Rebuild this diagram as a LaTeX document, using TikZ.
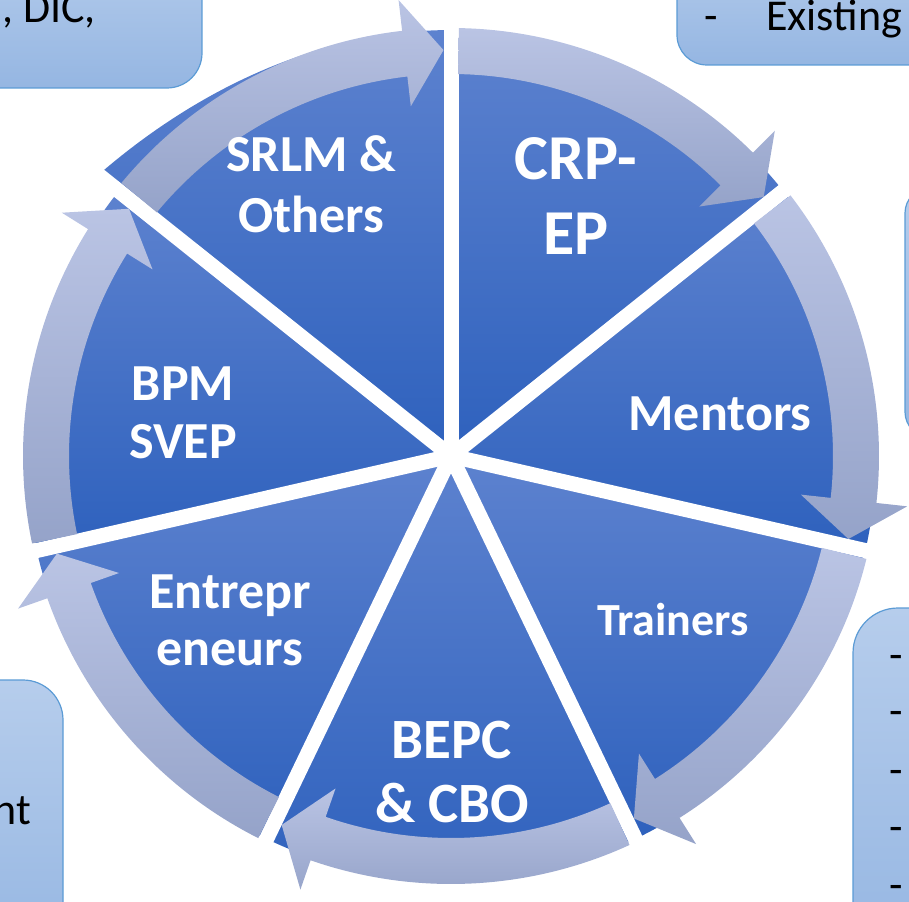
\documentclass[tikz,border=0pt]{standalone}
\usepackage{fontspec}
\setmainfont{Carlito}
\definecolor{wtop}{HTML}{5D82CF}
\definecolor{wbot}{HTML}{2E61BD}
\definecolor{atop}{HTML}{BAC4E4}
\definecolor{abot}{HTML}{95A3C9}
\definecolor{btop}{HTML}{B6CDEC}
\definecolor{bbot}{HTML}{95B6E2}
\definecolor{bline}{HTML}{5B9BD5}
\begin{document}
\begin{tikzpicture}[x=1pt,y=1pt,
  wedge/.style={top color=wtop, bottom color=wbot, draw=none},
  ring/.style={top color=atop, bottom color=abot, draw=none},
  sidebox/.style={top color=btop, bottom color=bbot, draw=bline, line width=1.2pt},
  lbl/.style={text=white, align=center, inner sep=0pt, anchor=base},
  boxtxt/.style={text=black, inner sep=0pt, font=\fontsize{44}{53}\selectfont}]
\useasboundingbox (0,0) rectangle (909,-901);
\clip (0,0) rectangle (909,-901);
% side boxes (cut by the frame)
\path[sidebox, rounded corners=35] (-60,60) rectangle (202,-88);
\path[sidebox, rounded corners=30] (677,60) rectangle (980,-65);
\path[sidebox, rounded corners=25] (905,-188) rectangle (980,-437);
\path[sidebox, rounded corners=45] (853,-608) rectangle (980,-960);
\path[sidebox, rounded corners=40] (-60,-680) rectangle (63,-960);
\node[boxtxt, anchor=base east] (dic) at (96,-23) {, DIC,};
\node[boxtxt, anchor=base west] (tdash) at (704,-31) {-};
\node[boxtxt, anchor=base west] (exist) at (766,-31) {Existing};
\node[boxtxt, anchor=base east] (nt) at (31,-824) {nt};
\foreach \y [count=\i] in {669,725,784,841,899}
  \node[boxtxt, anchor=base west] (bd\i) at (889,-\y) {-};
% cycle
\coordinate (C) at (451,-456);
\begin{scope}[shift={(C)}]
\foreach \a/\b in {90/38.571, 38.571/-12.857, -12.857/-64.286, -64.286/-115.714, -115.714/-167.143, -167.143/-218.571}
  \path[wedge] (0,0) -- (\a:425) arc[start angle=\a, end angle=\b, radius=425] -- cycle;
\path[wedge] (0,0) -- plot[domain=141.429:90, samples=40, variable=\t] (\t:{426+25*((\t-90)/51.429)^3}) -- cycle;
\foreach \g in {90,38.571,-12.857,-64.286,-115.714,-167.143,141.429}
  \draw[white, line width=15] (0,0) -- (\g:480);
\foreach \a/\b in {90/38.571, 38.571/-12.857, -12.857/-64.286, -64.286/-115.714, -115.714/-167.143, -167.143/-218.571, 141.429/90}{
  \pgfmathsetmacro\ta{\a-1.06}
  \pgfmathsetmacro\tp{\b+1.06}
  \pgfmathsetmacro\th{\tp+5.5}
  \path[ring] (\ta:428) arc[start angle=\ta, end angle=\th, radius=428] -- (\th:459) -- (\tp:406) -- (\th:352) -- (\th:382) arc[start angle=\th, end angle=\ta, radius=382] -- cycle;
}
\end{scope}
% labels (base = baseline of the last line)
\node[lbl, font=\bfseries\fontsize{52}{61}\selectfont] (srlm) at (311,-233) {SRLM \&\\Others};
\node[lbl, font=\bfseries\fontsize{64}{74}\selectfont] (crp) at (576,-254) {CRP-\\EP};
\node[lbl, font=\bfseries\fontsize{52}{61}\selectfont] (ment) at (720,-430) {Mentors};
\node[lbl, font=\bfseries\fontsize{46}{55}\selectfont] (train) at (673,-635) {Trainers};
\node[lbl, font=\bfseries\fontsize{57}{64}\selectfont] (bepc) at (452,-822) {BEPC\\\& CBO};
\node[lbl, font=\bfseries\fontsize{52}{57}\selectfont] (entr) at (230,-665) {Entrepr\\eneurs};
\node[lbl, font=\bfseries\fontsize{52}{58}\selectfont] (bpm) at (183,-458) {BPM\\SVEP};
\end{tikzpicture}
\end{document}
